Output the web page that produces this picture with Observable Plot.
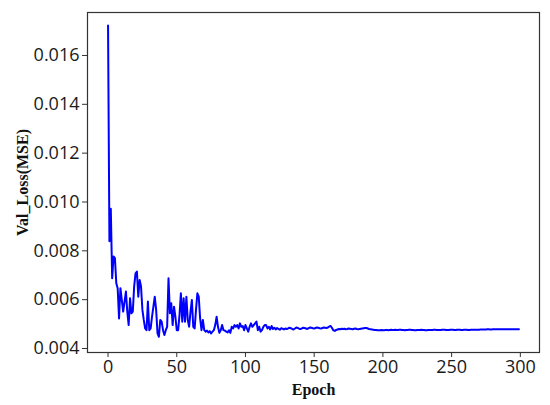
<!DOCTYPE html>
<html>
<head>
<meta charset="utf-8">
<script src="https://cdn.jsdelivr.net/npm/d3@7"></script>
<script src="https://cdn.jsdelivr.net/npm/@observablehq/plot@0.6"></script>
<style>
  html, body { margin: 0; padding: 0; background: #fff; }
</style>
</head>
<body>
<div id="chart"></div>
<script>
// Validation loss per epoch
const lossEarly = [
  0.01723, 0.00839, 0.00972, 0.00688, 0.00777, 0.00770, 0.00667, 0.00647, 0.00523, 0.00647,
  0.00599, 0.00551, 0.00592, 0.00633, 0.00551, 0.00496, 0.00606, 0.00544, 0.00551, 0.00654,
  0.00708, 0.00715, 0.00612, 0.00681, 0.00654, 0.00558, 0.00517, 0.00482, 0.00475, 0.00592,
  0.00475, 0.00482, 0.00530, 0.00571, 0.00612, 0.00558, 0.00462, 0.00448, 0.00517, 0.00510,
  0.00475, 0.00455, 0.00475, 0.00489, 0.00688, 0.00544, 0.00585, 0.00496, 0.00571, 0.00530,
  0.00475, 0.00475, 0.00537, 0.00626, 0.00510, 0.00606, 0.00510, 0.00612, 0.00517, 0.00489,
  0.00551, 0.00599, 0.00489, 0.00482, 0.00558, 0.00626, 0.00612, 0.00523, 0.00475, 0.00517,
  0.00475, 0.00469, 0.00473, 0.00466, 0.00471, 0.00462, 0.00469, 0.00475, 0.00496, 0.00530,
  0.00489, 0.00464, 0.00475, 0.00496, 0.00475, 0.00473, 0.00469, 0.00466, 0.00475, 0.00464,
  0.00489, 0.00482, 0.00496, 0.00489, 0.00496, 0.00482, 0.00503, 0.00489, 0.00492, 0.00475,
  0.00496, 0.00482, 0.00469, 0.00489, 0.00503, 0.00489, 0.00496, 0.00503, 0.00510, 0.00475,
  0.00489, 0.00469, 0.00475, 0.00489, 0.00496, 0.00496
];
const lossMid = [
  0.00482, 0.00489, 0.00478, 0.00492, 0.00480, 0.00485, 0.00478, 0.00484, 0.00480, 0.00477,
  0.00483, 0.00481, 0.00478, 0.00482, 0.00480,
  0.00482, 0.00485, 0.00483, 0.00480, 0.00478, 0.00482, 0.00486, 0.00484, 0.00481, 0.00480,
  0.00482, 0.00485, 0.00484, 0.00482, 0.00480, 0.00483, 0.00486, 0.00485, 0.00483, 0.00482,
  0.00484, 0.00486, 0.00485, 0.00483, 0.00482, 0.00484, 0.00486, 0.00485, 0.00484, 0.00486,
  0.00490, 0.00492, 0.00484, 0.00474, 0.00472, 0.00476, 0.00478, 0.00480, 0.00479, 0.00481,
  0.00480, 0.00481, 0.00479, 0.00480, 0.00482, 0.00481, 0.00480, 0.00479, 0.00481, 0.00482,
  0.00480, 0.00479, 0.00480, 0.00481, 0.00482, 0.00483, 0.00484, 0.00484, 0.00482, 0.00480,
  0.00479, 0.00478, 0.00477, 0.00476, 0.00476, 0.00475, 0.00475, 0.00475, 0.00476, 0.00475
];
const lossLate = [
  0.00475, 0.00476, 0.00476, 0.00475, 0.00476, 0.00477, 0.00476, 0.00476, 0.00477, 0.00476,
  0.00476, 0.00477, 0.00477, 0.00476, 0.00476, 0.00475, 0.00476, 0.00476, 0.00477, 0.00477,
  0.00476, 0.00476, 0.00475, 0.00475, 0.00476, 0.00476, 0.00476, 0.00477, 0.00476, 0.00476,
  0.00475, 0.00475, 0.00476, 0.00476, 0.00476, 0.00476, 0.00477, 0.00477, 0.00476, 0.00476,
  0.00476, 0.00476, 0.00477, 0.00477, 0.00477, 0.00476, 0.00476, 0.00476, 0.00477, 0.00477,
  0.00477, 0.00476, 0.00476, 0.00477, 0.00477, 0.00477, 0.00476, 0.00476, 0.00477, 0.00477,
  0.00477, 0.00476, 0.00476, 0.00477, 0.00477, 0.00477, 0.00477, 0.00477, 0.00477, 0.00477,
  0.00478, 0.00478, 0.00478, 0.00478, 0.00478, 0.00479, 0.00479, 0.00478, 0.00478, 0.00479,
  0.00479, 0.00479, 0.00479, 0.00479, 0.00479, 0.00479, 0.00479, 0.00479, 0.00479, 0.00479,
  0.00479, 0.00479, 0.00479, 0.00479, 0.00479, 0.00479, 0.00479, 0.00479, 0.00479
];
const xTicks = [0, 50, 100, 150, 200, 250, 300];
const yTicks = [0.004, 0.006, 0.008, 0.010, 0.012, 0.014, 0.016];
const xTitle = "Epoch";
const yTitle = "Val_Loss(MSE)";

const loss = [...lossEarly, ...lossMid, ...lossLate];
const data = loss.map((v, i) => ({epoch: i, loss: v}));

const tickFont = "'Open Sans', 'DejaVu Sans', sans-serif";
const titleFont = "'Liberation Serif', 'DejaVu Serif', serif";

const chart = Plot.plot({
  width: 550,
  height: 405,
  marginLeft: 87,
  marginRight: 11,
  marginTop: 12,
  marginBottom: 53,
  style: {background: "#fff", color: "#111"},
  x: {domain: [-14.95, 313.95]},
  y: {domain: [0.003836, 0.01776]},
  marks: [
    Plot.axisX({ticks: xTicks, tickSize: 5, tickPadding: 3, fontSize: 18, fontFamily: tickFont, label: null, stroke: "#333", fill: "#1a1a1a"}),
    Plot.axisY({ticks: yTicks, tickSize: 5, tickPadding: 3, fontSize: 18, fontFamily: tickFont, tickFormat: d3.format(".3f"), label: null, stroke: "#333", fill: "#1a1a1a"}),
    Plot.frame({stroke: "#333", strokeWidth: 1.2}),
    Plot.line(data, {x: "epoch", y: "loss", stroke: "#0000ff", strokeWidth: 2}),
    Plot.text([xTitle], {frameAnchor: "bottom", dy: 42, text: d => d, fontFamily: titleFont, fontWeight: "bold", fontSize: 16, fill: "#111"}),
    Plot.text([yTitle], {frameAnchor: "left", dx: -65, rotate: -90, textAnchor: "middle", text: d => d, fontFamily: titleFont, fontWeight: "bold", fontSize: 16, fill: "#111"})
  ]
});
document.getElementById("chart").appendChild(chart);
</script>
</body>
</html>
